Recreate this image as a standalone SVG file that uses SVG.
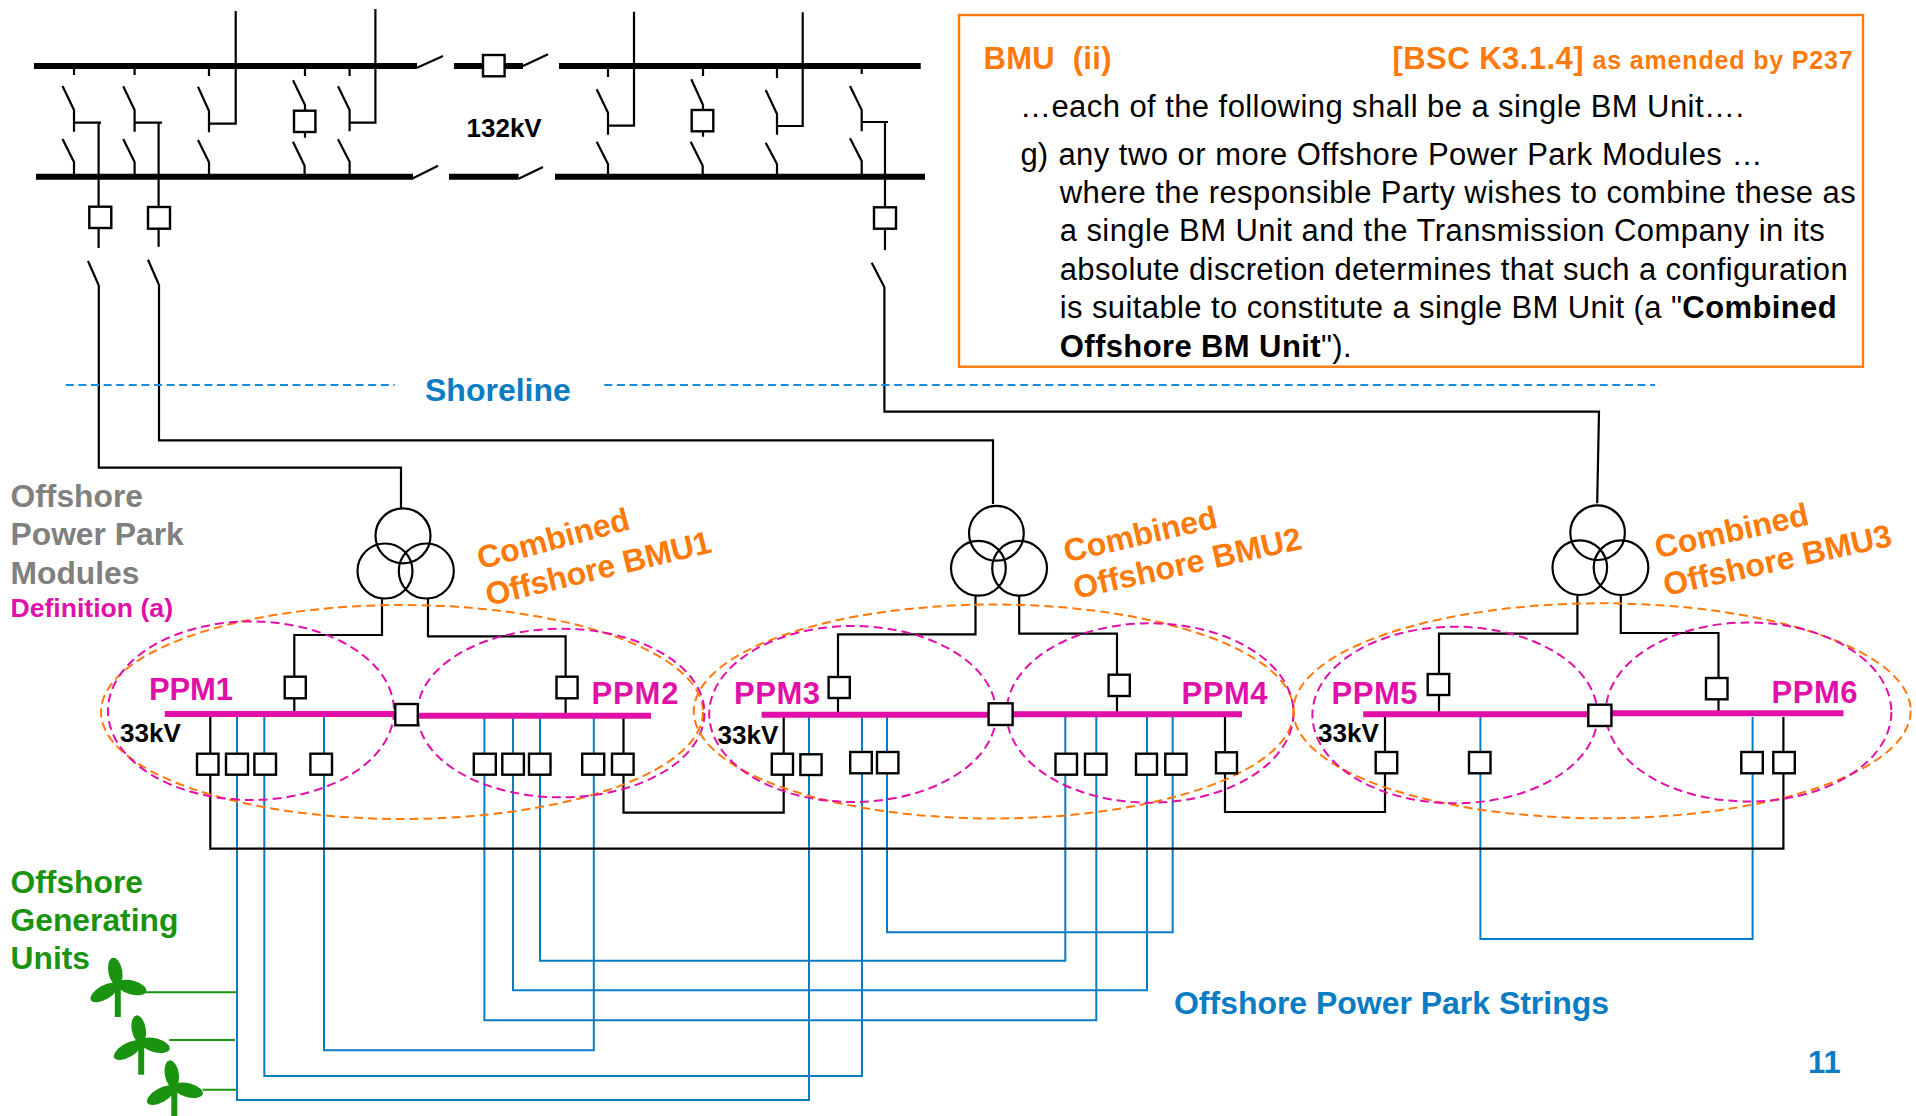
<svg xmlns="http://www.w3.org/2000/svg" width="1916" height="1116" viewBox="0 0 1916 1116">
<style>
text{font-family:"Liberation Sans",Arial,sans-serif;}
.b{font-weight:bold;}
.l{fill:none;stroke:#000;stroke-width:2.2;}
.bl{fill:none;stroke:#0a7cc4;stroke-width:2;}
.gr{fill:none;stroke:#1a9310;stroke-width:2;}
.bus{fill:none;stroke:#000;stroke-width:6;}
.mb{fill:none;stroke:#e010a8;stroke-width:6;}
.box{fill:#fff;stroke:#000;stroke-width:2.4;}
.tx{fill:none;stroke:#000;stroke-width:2.2;}
.oe{fill:none;stroke:#ff7a0a;stroke-width:2;stroke-dasharray:9 5;}
.me{fill:none;stroke:#e010a8;stroke-width:2;stroke-dasharray:9 5;}
.or{fill:#ff7a0a;}
.mg{fill:#e010a8;}
.gy{fill:#808080;}
.gn{fill:#1a9310;}
.bt{fill:#0a7cc4;}
.body{font-size:31px;fill:#000;}
.lab{font-size:32px;}
.ppm{font-size:31px;}
.kv{font-size:26px;fill:#000;}
</style>
<defs>
<g id="turbine">
<ellipse cx="-2.5" cy="-13.5" rx="7" ry="14" transform="rotate(-10 -2.5 -13.5)" fill="#1a9310"/>
<ellipse cx="14" cy="2.5" rx="15" ry="7" transform="rotate(15 14 2.5)" fill="#1a9310"/>
<ellipse cx="-13.5" cy="7.5" rx="15.5" ry="7" transform="rotate(-30 -13.5 7.5)" fill="#1a9310"/>
<rect x="-3" y="0" width="6" height="32" fill="#1a9310"/>
</g>
</defs>

<g id="connectors">
<path class="gr" d="M143 992.3H237M169.3 1040H235M202.7 1089.7H237"/>
<path class="bl" d="M237 717V1100H809V717M264.3 717V1076H862V717M324 717V1050.3H593.8V717M484.4 717V1020.3H1096.3V717M513 717V990.3H1147V717M540 717V960.7H1065.3V717M887 717V932.3H1172.7V717M1480.4 717V939H1752.6V717"/>
<path class="l" d="M210.3 717V848.7H1783.4V717M623.5 717V812.7H783.7V717M1225 717V812H1385V717"/>
<path class="l" d="M98.8 285V467.7H401V508M159 284V440.3H993V504M884.4 287V411.7H1599L1597.2 503.3"/>
<path class="l" d="M382 598V635H294.3V712M428 598V636.3H565.6V715M975.5 595.7V634.3H838V712M1019.2 595.7V633.7H1117V712M1577.4 595V633.7H1439V712M1620.8 595V633H1718.5V711"/>
<path class="l" d="M74 66V75M62.5 86L74 110V131.7M74 122.7H101M62.5 139L74 162V176.7M98.6 122.7V248M88 261L98.6 285"/>
<path class="l" d="M134.6 66V75M123.2 86.3L134.6 110V131.7M134.6 122.7H162M123.2 139L134.6 162V176.7M158.6 122.7V246.7M148 259.7L158.6 284"/>
<path class="l" d="M209 66V76M198 86.7L209 111V132.3M209 123.7H235.7V11M198 140L209 162.3V176.7"/>
<path class="l" d="M305 63V76M293 80.3L305 105V137.7M293 141.7L304.6 165.7V176.7"/>
<path class="l" d="M349.6 66V76M338 86.3L349.6 110V131.3M349.6 122.7H375.4V9M338 139.3L349.6 161.7V176.7"/>
<path class="l" d="M417 67.7L443 56M413 178.3L438 165.7M523 66L548 54.3M518.6 178.7L543 167"/>
<path class="l" d="M608 66V77M596.7 89.3L608 112.7V134.7M608 125.7H634V11.7M596.7 141.7L608 164V176.7"/>
<path class="l" d="M703 63V76M691.3 79.3L703 105V136.7M690.7 141.7L702.7 165.7V176.7"/>
<path class="l" d="M777 66V78M765.7 90L777 114V134.7M777 126H802.7V12.3M765.7 142.7L777 164V176.7"/>
<path class="l" d="M861.7 66V74M850 86L861.7 110V131.3M861.7 122H888M885 122V250M871.7 262.7L884.3 287M850 138.3L861.7 161V176.7"/>
</g>

<g id="busbars-132kV">
<path class="bus" d="M34 66H417M36 176.7H413M454 66H523M449 176.7H518.6M559 66H920.7M555 176.7H925"/>
<rect class="box" x="294" y="110.7" width="21.4" height="21.3"/>
<rect class="box" x="691.7" y="110" width="21.6" height="21.3"/>
<rect class="box" x="483" y="55" width="21.6" height="21.3"/>
<rect class="box" x="89.3" y="206.7" width="22" height="21.3"/>
<rect class="box" x="148" y="207" width="22" height="21.7"/>
<rect class="box" x="874" y="207.3" width="22" height="21.4"/>
<text class="b kv" x="466.5" y="136.7">132kV</text>
</g>

<g id="bmu-definition">
<rect x="959" y="15" width="904" height="351.7" fill="none" stroke="#ff7a0a" stroke-width="2.4"/>
<text class="b or" x="983.5" y="69" font-size="31" textLength="128" xml:space="preserve">BMU  (ii)</text>
<text class="b or" x="1392.5" y="69" font-size="31" textLength="191">[BSC K3.1.4]</text>
<text class="b or" x="1592.6" y="69" font-size="25" textLength="260">as amended by P237</text>
<text class="body" x="1020" y="116.7" textLength="724">…each of the following shall be a single BM Unit….</text>
<text class="body" x="1020.5" y="165">g)</text>
<text class="body" x="1058.4" y="165" textLength="704">any two or more Offshore Power Park Modules …</text>
<text class="body" x="1059.7" y="203.3" textLength="796">where the responsible Party wishes to combine these as</text>
<text class="body" x="1059.7" y="241" textLength="765">a single BM Unit and the Transmission Company in its</text>
<text class="body" x="1059.7" y="280" textLength="788">absolute discretion determines that such a configuration</text>
<text class="body" x="1059.7" y="318.3" textLength="777">is suitable to constitute a single BM Unit (a "<tspan class="b">Combined</tspan></text>
<text class="body" x="1059.7" y="356.7" textLength="292"><tspan class="b">Offshore BM Unit</tspan>").</text>
</g>

<g id="shoreline">
<path d="M65.8 385H394.8M604.3 385H1655" fill="none" stroke="#1a8cd8" stroke-width="2" stroke-dasharray="8 4.6"/>
<text class="b bt" x="425" y="400.7" font-size="32">Shoreline</text>
</g>

<g id="labels">
<text class="b gy" x="10.5" y="506.7" font-size="31.8">Offshore</text>
<text class="b gy" x="10.5" y="545.3" font-size="31.8">Power Park</text>
<text class="b gy" x="10.5" y="583.7" font-size="31.8">Modules</text>
<text class="b mg" x="10.5" y="616.7" font-size="26.6">Definition (a)</text>
<text class="b gn" x="10.5" y="893.3" font-size="31.8">Offshore</text>
<text class="b gn" x="10.5" y="931" font-size="31.8">Generating</text>
<text class="b gn" x="10.5" y="969.3" font-size="31.8">Units</text>
<text class="b bt" x="1174" y="1014" font-size="32" textLength="435">Offshore Power Park Strings</text>
<text class="b bt" x="1808" y="1073.3" font-size="31">11</text>
</g>

<g id="bmu1">
<ellipse class="oe" cx="402" cy="712" rx="301" ry="107"/><ellipse class="me" cx="251" cy="710.7" rx="143" ry="89.3"/><ellipse class="me" cx="561" cy="713" rx="143.5" ry="84.3"/>
<circle class="tx" cx="403" cy="535.8" r="27.5"/><circle class="tx" cx="385" cy="571" r="27.5"/><circle class="tx" cx="426.3" cy="571" r="27.5"/>
<path class="mb" d="M164.8 714H396M417 715.7H651"/>
<rect class="box" x="395.3" y="704" width="22.5" height="21.3"/>
<rect class="box" x="284.7" y="676.7" width="21.1" height="21.6"/>
<rect class="box" x="556.5" y="676.7" width="21.1" height="21.6"/>
<rect class="box" x="197" y="753.7" width="21.5" height="21"/><rect class="box" x="226" y="753.7" width="22" height="21"/><rect class="box" x="254.4" y="753.7" width="21.6" height="21"/><rect class="box" x="310.4" y="753.7" width="21.6" height="21"/>
<rect class="box" x="473.8" y="753.7" width="22" height="21"/><rect class="box" x="502.3" y="753.7" width="21.6" height="21"/><rect class="box" x="529" y="753.7" width="21.5" height="21"/><rect class="box" x="582.2" y="753.7" width="22" height="21"/><rect class="box" x="612" y="753.7" width="21.6" height="21"/>
<text class="b mg ppm" x="149" y="699.5" textLength="84">PPM1</text><text class="b mg ppm" x="591.5" y="703.5" textLength="87">PPM2</text>
<text class="b kv" x="120" y="741.7">33kV</text>
<text class="b or lab" transform="translate(480.5 569.5) rotate(-15)">Combined</text>
<text class="b or lab" transform="translate(488.5 606) rotate(-13.5)" textLength="231">Offshore BMU1</text>
</g>

<g id="bmu2">
<ellipse class="oe" cx="993.8" cy="711.5" rx="300" ry="107"/><ellipse class="me" cx="852.7" cy="714" rx="143.5" ry="88"/><ellipse class="me" cx="1150" cy="713" rx="143.5" ry="89.7"/>
<circle class="tx" cx="996.4" cy="533.3" r="27.4"/><circle class="tx" cx="978.4" cy="568.3" r="27.4"/><circle class="tx" cx="1019.6" cy="568.3" r="27.4"/>
<path class="mb" d="M761.6 714.7H989M1012 714.3H1242"/>
<rect class="box" x="988.6" y="703.3" width="24" height="21.7"/>
<rect class="box" x="828.6" y="677" width="21.2" height="21"/>
<rect class="box" x="1108.6" y="674.7" width="21.2" height="21.3"/>
<rect class="box" x="771.8" y="753.7" width="21.2" height="21"/><rect class="box" x="800.4" y="754.3" width="21.2" height="20.7"/><rect class="box" x="850.2" y="752" width="21.6" height="21.3"/><rect class="box" x="877" y="752" width="21.4" height="21.3"/>
<rect class="box" x="1055.5" y="753.7" width="21.5" height="21"/><rect class="box" x="1085" y="753.7" width="21.5" height="21"/><rect class="box" x="1136" y="753.7" width="21" height="21"/><rect class="box" x="1165.3" y="753.7" width="21.2" height="21"/><rect class="box" x="1216" y="752.3" width="21" height="21"/>
<text class="b mg ppm" x="734" y="704" textLength="86">PPM3</text><text class="b mg ppm" x="1181.5" y="704" textLength="86">PPM4</text>
<text class="b kv" x="717.5" y="744.3">33kV</text>
<text class="b or lab" transform="translate(1066.5 562.5) rotate(-13)">Combined</text>
<text class="b or lab" transform="translate(1076 599) rotate(-12.5)" textLength="233">Offshore BMU2</text>
</g>

<g id="bmu3">
<ellipse class="oe" cx="1602" cy="710.8" rx="308.7" ry="107.5"/><ellipse class="me" cx="1455" cy="715" rx="142.6" ry="88.3"/><ellipse class="me" cx="1748.6" cy="712" rx="142.8" ry="89.5"/>
<circle class="tx" cx="1597.6" cy="532.7" r="27.3"/><circle class="tx" cx="1579.8" cy="567.7" r="27.3"/><circle class="tx" cx="1621" cy="567.7" r="27.3"/>
<path class="mb" d="M1363.2 714.3H1589M1611 713.3H1843.5"/>
<rect class="box" x="1588.3" y="704.7" width="23.1" height="21.3"/>
<rect class="box" x="1427.7" y="674" width="21.5" height="21"/>
<rect class="box" x="1706" y="678" width="21.5" height="21.3"/>
<rect class="box" x="1375.7" y="752" width="21.5" height="21.3"/><rect class="box" x="1469" y="752" width="21.5" height="21.3"/><rect class="box" x="1741.3" y="752" width="21.5" height="21.3"/><rect class="box" x="1773.3" y="752" width="21.5" height="21.3"/>
<text class="b mg ppm" x="1331.5" y="704" textLength="86">PPM5</text><text class="b mg ppm" x="1771.5" y="702.8" textLength="86">PPM6</text>
<text class="b kv" x="1318" y="741.7">33kV</text>
<text class="b or lab" transform="translate(1657.5 558.5) rotate(-12.5)">Combined</text>
<text class="b or lab" transform="translate(1666 596) rotate(-12.5)" textLength="233">Offshore BMU3</text>
</g>

<g id="turbine-1"><use href="#turbine" x="117.8" y="985"/></g>
<g id="turbine-2"><use href="#turbine" x="141.2" y="1042.7"/></g>
<g id="turbine-3"><use href="#turbine" x="174.3" y="1087.7"/></g>
</svg>
